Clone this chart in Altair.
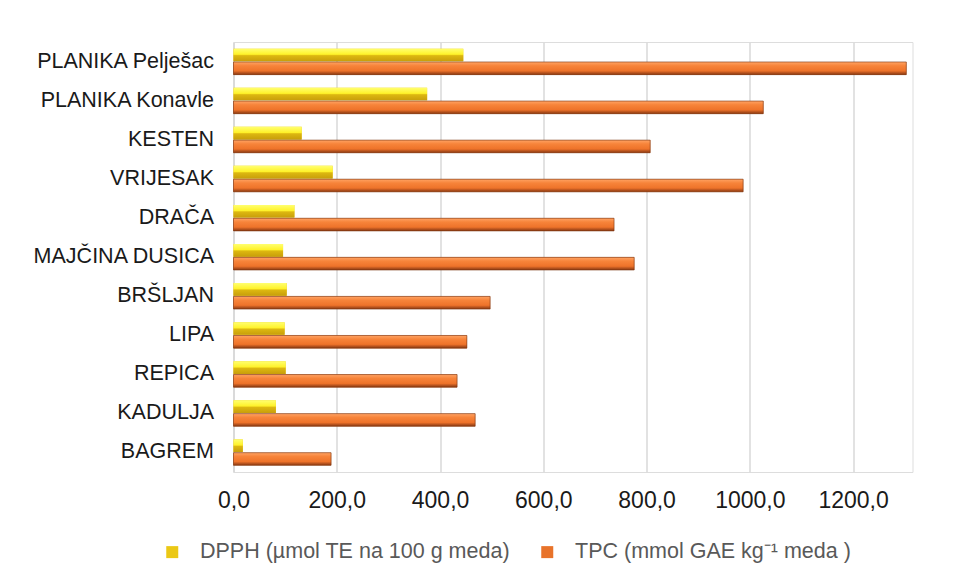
import altair as alt
import pandas as pd

categories = ["PLANIKA Pelješac", "PLANIKA Konavle", "KESTEN", "VRIJESAK", "DRAČA",
              "MAJČINA DUSICA", "BRŠLJAN", "LIPA", "REPICA", "KADULJA", "BAGREM"]
dpph = [445, 375, 132, 192, 118, 96, 103, 99, 101, 82, 18]
tpc = [1303, 1026, 807, 987, 737, 776, 497, 452, 433, 468, 189]
series_names = ["DPPH (µmol TE na 100 g meda)", "TPC (mmol GAE kg⁻¹ meda )"]
x_ticks = [0, 200, 400, 600, 800, 1000, 1200]

rows = []
for c, d, t in zip(categories, dpph, tpc):
    rows.append({"category": c, "series": series_names[0], "value": d})
    rows.append({"category": c, "series": series_names[1], "value": t})
df = pd.DataFrame(rows)

y_enc = alt.Y("category:N", sort=categories,
              scale=alt.Scale(paddingInner=0.335, paddingOuter=0.17),
              axis=alt.Axis(title=None, labelFontSize=21.5, labelColor="#1a1a1a",
                            labelFont="Liberation Sans", labelPadding=20, ticks=False,
                            domain=True, domainColor="#D9D9D9", domainWidth=1.5, grid=False,
                            labelLimit=400))
x_enc = alt.X("value:Q", scale=alt.Scale(domain=[0, 1315], nice=False, zero=True),
              axis=alt.Axis(title=None, values=x_ticks,
                            labelExpr="replace(format(datum.value, '.1f'), '.', ',')",
                            labelFontSize=23, labelColor="#1a1a1a", labelFont="Liberation Sans",
                            labelPadding=17, labelFlush=False, labelOverlap=False,
                            domain=False, ticks=False, grid=True,
                            gridColor="#D9D9D9", gridWidth=1.5))
yoff = alt.YOffset("series:N", sort=series_names,
                   scale=alt.Scale(domain=series_names, paddingInner=0.05))

base = alt.Chart(df).mark_bar().encode(
    y=y_enc, x=x_enc, yOffset=yoff,
    color=alt.Color("series:N", sort=series_names,
                    scale=alt.Scale(domain=series_names, range=["#EBC815", "#E8732A"]),
                    legend=alt.Legend(title=None, orient="none", legendX=-72, legendY=499,
                                      direction="horizontal", symbolType="square",
                                      symbolSize=144, symbolStrokeWidth=0,
                                      labelFontSize=21.5, labelColor="#595959",
                                      labelFont="Liberation Sans", labelOffset=17,
                                      columnPadding=26, labelLimit=600)),
)

yellow_grad = alt.Gradient(gradient="linear", x1=0, y1=0, x2=0, y2=1, stops=[
    alt.GradientStop(offset=0, color="#FFFF70"),
    alt.GradientStop(offset=0.45, color="#FFF22A"),
    alt.GradientStop(offset=0.55, color="#DDB810"),
    alt.GradientStop(offset=1, color="#C89E0A"),
])
orange_grad = alt.Gradient(gradient="linear", x1=0, y1=0, x2=0, y2=1, stops=[
    alt.GradientStop(offset=0, color="#FFA364"),
    alt.GradientStop(offset=0.3, color="#F7843A"),
    alt.GradientStop(offset=0.7, color="#EE732A"),
    alt.GradientStop(offset=0.85, color="#B9541E"),
    alt.GradientStop(offset=1, color="#8A3A12"),
])

ylayer = alt.Chart(df).transform_filter(
    alt.datum.series == series_names[0]
).mark_bar(fill=yellow_grad).encode(y=y_enc, x=x_enc, yOffset=yoff)
olayer = alt.Chart(df).transform_filter(
    alt.datum.series == series_names[1]
).mark_bar(fill=orange_grad, stroke="#7A3410", strokeWidth=0.6).encode(y=y_enc, x=x_enc, yOffset=yoff)

chart = alt.layer(base, ylayer, olayer).properties(
    width=679, height=430,
    padding={"left": 23.5, "top": 34, "right": 10, "bottom": 10},
).configure_view(stroke=None).configure(background="white")

chart.save("out.html", embed_options={"renderer": "svg", "actions": False})
